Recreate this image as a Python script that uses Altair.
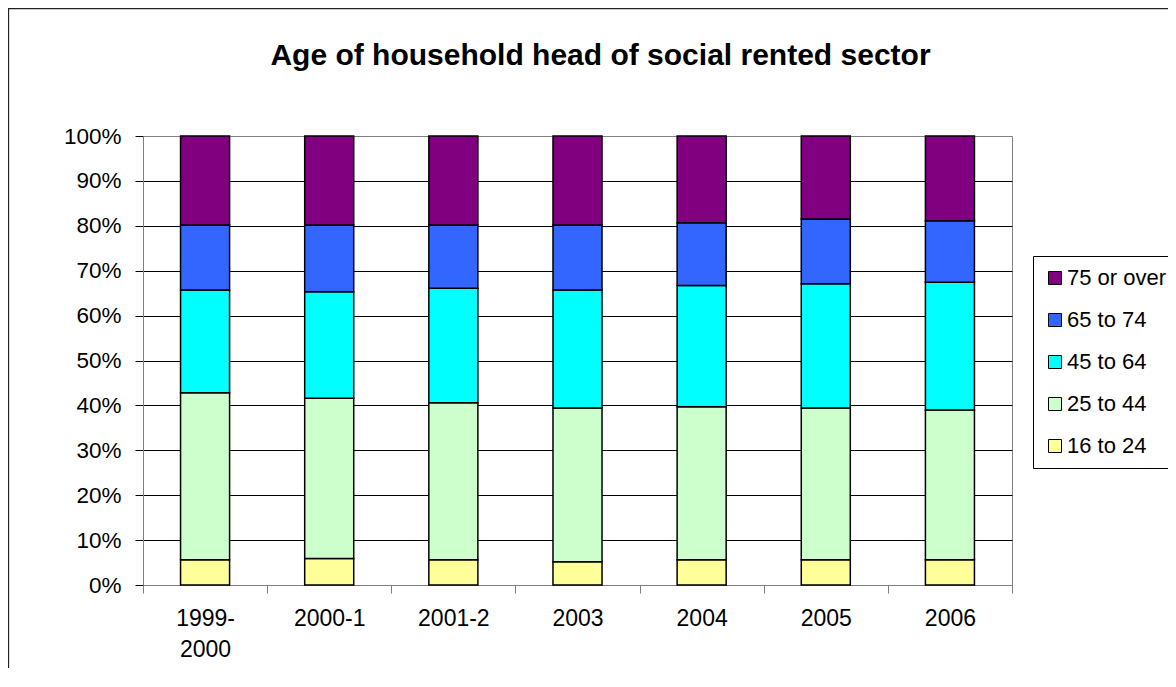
import altair as alt
import pandas as pd

years = ["1999-2000", "2000-1", "2001-2", "2003", "2004", "2005", "2006"]
groups = ["16 to 24", "25 to 44", "45 to 64", "65 to 74", "75 or over"]
age_16_24 = [5.6, 5.9, 5.6, 5.2, 5.6, 5.6, 5.6]
age_25_44 = [37.2, 35.7, 35.0, 34.2, 34.1, 33.8, 33.4]
age_45_64 = [22.9, 23.7, 25.5, 26.3, 27.0, 27.7, 28.4]
age_65_74 = [14.5, 14.9, 14.1, 14.5, 14.0, 14.4, 13.7]
age_75_plus = [19.8, 19.8, 19.8, 19.8, 19.3, 18.5, 18.9]
colors = ["#FFFF99", "#CCFFCC", "#00FFFF", "#3366FF", "#800080"]
y_ticks = [0, 10, 20, 30, 40, 50, 60, 70, 80, 90, 100]

series = [age_16_24, age_25_44, age_45_64, age_65_74, age_75_plus]
rows = []
for k, (g, vals) in enumerate(zip(groups, series)):
    for yr, v in zip(years, vals):
        rows.append({"year": yr, "group": g, "value": v, "k": k})
df = pd.DataFrame(rows)

FONT = "Liberation Sans"

bars = alt.Chart(df).mark_bar(
    width=alt.RelativeBandSize(0.395), stroke="black", strokeWidth=1.5
).encode(
    x=alt.X("year:N", sort=years, title=None,
            scale=alt.Scale(paddingInner=0, paddingOuter=0),
            axis=alt.Axis(tickBand="extent", tickSize=8, tickColor="#808080",
                          domainColor="#808080", labelAngle=0, labelPadding=14,
                          labelFontSize=23, labelFont=FONT, labelColor="black",
                          labelLineHeight=31,
                          labelExpr="datum.value == '1999-2000' ? ['1999-', '2000'] : datum.label",
                          grid=False)),
    y=alt.Y("value:Q", stack="zero", title=None,
            scale=alt.Scale(domain=[0, 100], nice=False),
            axis=alt.Axis(values=y_ticks, labelExpr="datum.value + '%'",
                          tickSize=8, tickColor="black", domainColor="#808080",
                          labelPadding=14, labelFontSize=22.5, labelFont=FONT,
                          labelColor="black",
                          grid=True,
                          gridColor=alt.condition("datum.value >= 100", alt.value("#808080"), alt.value("black")),
                          gridWidth=1)),
    color=alt.Color("group:N",
                    scale=alt.Scale(domain=groups[::-1], range=colors[::-1]),
                    legend=alt.Legend(title=None, orient="none", legendX=890, legendY=120)),
    order=alt.Order("k:Q", sort="ascending"),
)

frame = alt.Chart(pd.DataFrame({"f": [0]})).mark_rect(
    fillOpacity=0, stroke="#222222", strokeWidth=1.3
).encode(
    x=alt.value(-134.5), x2=alt.value(1200), y=alt.value(-127.5), y2=alt.value(700)
)

chart = alt.layer(frame, bars).properties(
    width=869, height=449,
    autosize=alt.AutoSizeParams(type="none"),
    padding={"left": 135, "top": 128, "right": 156, "bottom": 83},
    title=alt.TitleParams("Age of household head of social rented sector",
                          fontSize=30, fontWeight="bold", font=FONT, color="black",
                          anchor="middle", frame="group", dx=23, offset=-63),
).configure_view(
    stroke="#808080", strokeWidth=1
).configure_legend(
    symbolType="square", symbolSize=169, symbolStrokeColor="black",
    symbolStrokeWidth=1, labelFontSize=22, labelFont=FONT, labelColor="black",
    labelOffset=1, rowPadding=20, padding=11, strokeColor="black",
    fillColor="white", symbolOpacity=1
)

chart.save("out.html", embed_options={"renderer": "svg", "actions": False})
